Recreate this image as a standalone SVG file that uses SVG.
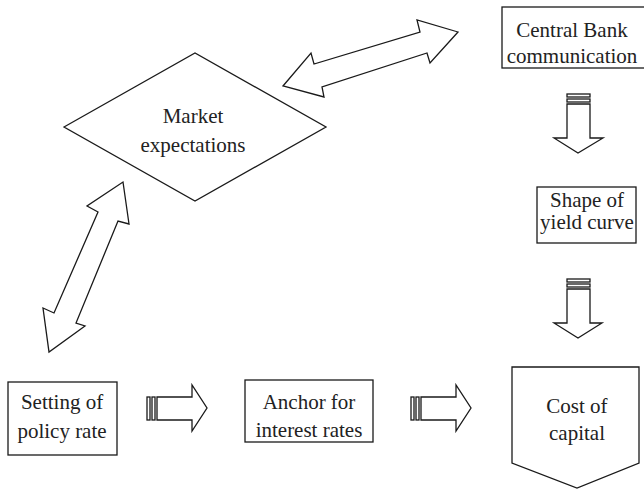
<svg xmlns="http://www.w3.org/2000/svg" width="644" height="490" viewBox="0 0 644 490">
<style>
.s{fill:#fff;stroke:#1a1a1a;stroke-width:1.3;stroke-linejoin:miter}
.t{font-family:"Liberation Serif","Times New Roman",serif;font-size:21px;fill:#222;text-anchor:middle}
</style>
<rect width="644" height="490" fill="#fff"/>
<g id="market-expectations">
<polygon class="s" points="64,127 195,53 326,127 195,201"/>
<text class="t" x="193" y="123">Market</text>
<text class="t" x="193" y="152">expectations</text>
</g>
<g id="central-bank">
<rect class="s" x="502" y="7" width="150" height="61"/>
<text class="t" x="572" y="37">Central Bank</text>
<text class="t" x="572" y="63">communication</text>
</g>
<g id="shape-yield-curve">
<rect class="s" x="537" y="187" width="99" height="56"/>
<text class="t" x="587" y="207">Shape of</text>
<text class="t" x="587" y="229">yield curve</text>
</g>
<g id="setting-policy-rate">
<rect class="s" x="8" y="382" width="109" height="73"/>
<text class="t" x="62" y="409">Setting of</text>
<text class="t" x="62" y="438">policy rate</text>
</g>
<g id="anchor-interest-rates">
<rect class="s" x="245" y="380" width="128" height="62"/>
<text class="t" x="309" y="409">Anchor for</text>
<text class="t" x="309" y="437">interest rates</text>
</g>
<g id="cost-of-capital">
<polygon class="s" points="512,367 639,367 639,463 577,488 512,463"/>
<text class="t" x="577" y="413">Cost of</text>
<text class="t" x="577" y="440">capital</text>
</g>
<g id="connectors">
<polygon class="s" points="458,32 417,20 420,32 314,64 311,53 283,86 324,97 322,87 427,53 430,63"/>
<polygon class="s" points="123,182 129,224 118,221 76,323 85,326 49,352 43,308 54,313 98,212 87,206"/>
<g id="down-arrow-1">
<rect class="s" x="567" y="94" width="23" height="3"/>
<rect class="s" x="567" y="99" width="23" height="3"/>
<polygon class="s" points="567,104 590,104 590,138 603,138 578,153 554,138 567,138"/>
</g>
<g id="down-arrow-2">
<rect class="s" x="567" y="279" width="23" height="3"/>
<rect class="s" x="567" y="284" width="23" height="3"/>
<polygon class="s" points="567,289 590,289 590,323 602,323 578,338 554,323 567,323"/>
</g>
<g id="right-arrow-1">
<rect class="s" x="147" y="397" width="3" height="23"/>
<rect class="s" x="152" y="397" width="3" height="23"/>
<polygon class="s" points="157,397 192,397 192,385 207,408 192,431 192,420 157,420"/>
</g>
<g id="right-arrow-2">
<rect class="s" x="411" y="397" width="3" height="23"/>
<rect class="s" x="416" y="397" width="3" height="23"/>
<polygon class="s" points="421,397 456,397 456,385 471,408 456,431 456,420 421,420"/>
</g>
</g>
</svg>
